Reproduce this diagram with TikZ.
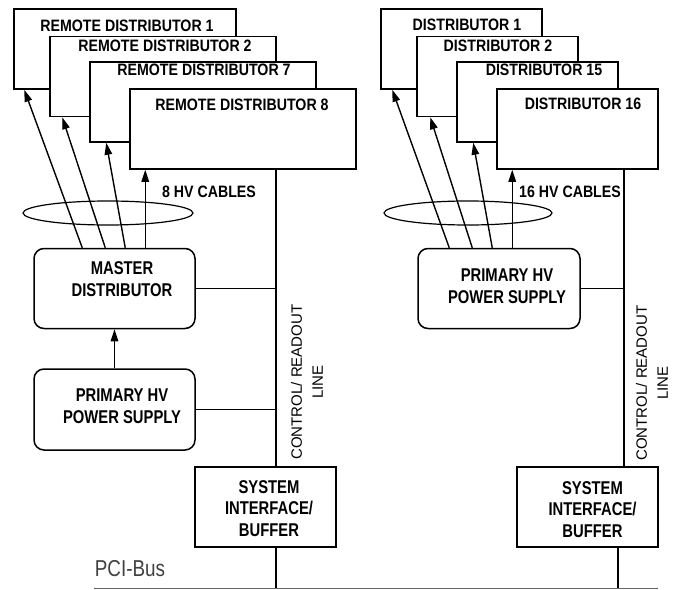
\documentclass[tikz,border=0pt]{standalone}
\usepackage{fontspec}
\setmainfont{Liberation Sans}
\newfontfamily\boxfont{Liberation Sans}[FakeStretch=0.86]
\newfontfamily\tallfont{Liberation Sans}[FakeStretch=0.8]
\newfontfamily\narrowfont{Liberation Sans}[FakeStretch=0.82]
\usetikzlibrary{arrows.meta,calc,positioning}

\begin{document}
\begin{tikzpicture}[x=1pt,y=-1pt,line width=1.5pt,
  box/.style={draw,fill=white,inner sep=0pt,minimum width=161,minimum height=80},
  rbox/.style={box,rounded corners=10pt},
  txt/.style={font=\boxfont\fontsize{16.5}{21}\selectfont\bfseries,align=center,inner sep=0pt,anchor=center},
  bigtxt/.style={txt,font=\tallfont\fontsize{18.5}{21.5}\selectfont\bfseries},
  vtxt/.style={font=\fontsize{15}{21}\selectfont,align=center,inner sep=0pt,rotate=90},
  cable/.style={-{Triangle[length=12pt,width=7.5pt]},line width=1.4pt}]
\useasboundingbox (0,0) rectangle (677,589);

% remote side
\node[box,minimum width=222,label={[txt,xshift=2pt,yshift=-17.5pt]north:REMOTE DISTRIBUTOR 1}] (rd1) at (125,49) {};
\node[box,minimum width=226,label={[txt,xshift=2pt,yshift=-10.5pt]north:REMOTE DISTRIBUTOR 2}] (rd2) at (163,76.5) {};
\node[box,minimum width=226,label={[txt,xshift=1pt,yshift=-8.5pt]north:REMOTE DISTRIBUTOR 7}] (rd7) at (203,102) {};
\node[box,minimum width=226,label={[txt,xshift=-1pt,yshift=-17pt]north:REMOTE DISTRIBUTOR 8}] (rd8) at (243,129) {};
\node[rbox,label={[bigtxt,xshift=7.5pt,yshift=-31.5pt]north:MASTER\\DISTRIBUTOR}] (md) at (114.5,288.5) {};
\node[rbox,minimum height=81,label={[bigtxt,xshift=7.5pt,yshift=-38pt]north:PRIMARY HV\\POWER SUPPLY}] (ps1) at (114.5,409.5) {};
\node[box,minimum width=141,label={[bigtxt,xshift=3.5pt,yshift=-42pt]north:SYSTEM\\INTERFACE/\\BUFFER}] (si1) at (265.5,507) {};
\node[txt] (hv8) at (209,192) {8 HV CABLES};
\node[vtxt] (ctl1) at (307,382) {CONTROL/ READOUT\\LINE};
\coordinate (bus1) at (276,588);

% local side
\node[box,label={[txt,xshift=5.5pt,yshift=-17pt]north:DISTRIBUTOR 1}] (d1) at (461.5,49) {};
\node[box,label={[txt,xshift=0.5pt,yshift=-10.5pt]north:DISTRIBUTOR 2}] (d2) at (497.5,76.5) {};
\node[box,label={[txt,xshift=6.5pt,yshift=-8.5pt]north:DISTRIBUTOR 15}] (d15) at (537.5,102) {};
\node[box,label={[txt,xshift=5.5pt,yshift=-16pt]north:DISTRIBUTOR 16}] (d16) at (577.5,129) {};
\node[rbox,minimum width=162,label={[bigtxt,xshift=8pt,yshift=-38.5pt]north:PRIMARY HV\\POWER SUPPLY}] (ps2) at (499,288.5) {};
\node[box,minimum width=141,label={[bigtxt,xshift=5pt,yshift=-43pt]north:SYSTEM\\INTERFACE/\\BUFFER}] (si2) at (587.5,507) {};
\node[txt] (hv16) at (570,192) {16 HV CABLES};
\node[vtxt] (ctl2) at (652,383) {CONTROL/ READOUT\\LINE};
\coordinate (bus2) at (618,588);
\coordinate (ctlx2) at (624,588);

% bus
\coordinate (pcia) at (94,588);
\coordinate (pcib) at (658,588);
\node[font=\narrowfont\fontsize{23}{24}\selectfont,text=black!75,inner sep=0pt] (pci) at (130,569) {PCI-Bus};
\draw[black!60,line width=1pt] (pcia) -- (pcib);

% cables
\draw[cable] ([xshift=49pt]md.north west) -- ([xshift=11pt]rd1.south west);
\draw[cable] ([xshift=72pt]md.north west) -- ([xshift=13pt]rd2.south west);
\draw[cable] ([xshift=92pt]md.north west) -- ([xshift=17pt]rd7.south west);
\draw[cable] ([xshift=112pt]md.north west) -- ([xshift=16pt]rd8.south west);
\draw[cable] (ps1) -- (md);
\draw[line width=1.2pt] (108,213) ellipse (85 and 12);

\draw[cable] ([xshift=32pt]ps2.north west) -- ([xshift=12pt]d1.south west);
\draw[cable] ([xshift=55pt]ps2.north west) -- ([xshift=14pt]d2.south west);
\draw[cable] ([xshift=75pt]ps2.north west) -- ([xshift=17pt]d15.south west);
\draw[cable] ([xshift=95pt]ps2.north west) -- ([xshift=16pt]d16.south west);
\draw[line width=1.2pt] (468,213) ellipse (84 and 12);

% control lines
\draw (rd8.south -| bus1) -- (si1.north -| bus1);
\draw (si1.south -| bus1) -- (bus1);
\draw (md.east) -- (md.east -| bus1);
\draw (ps1.east) -- (ps1.east -| bus1);
\draw (d16.south -| ctlx2) -- (si2.north -| ctlx2);
\draw (si2.south -| bus2) -- (bus2);
\draw (ps2.east) -- (ps2.east -| ctlx2);

\end{tikzpicture}
\end{document}
